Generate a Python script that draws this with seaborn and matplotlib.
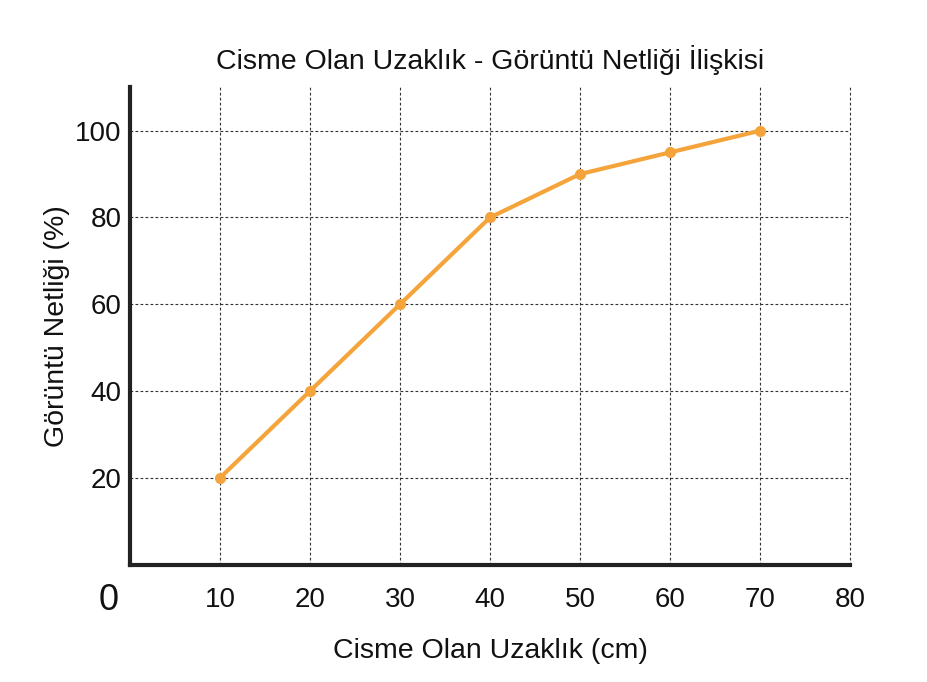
import pandas as pd
import seaborn as sns
import matplotlib.pyplot as plt

# data
distance_cm = [10, 20, 30, 40, 50, 60, 70]
clarity_pct = [20, 40, 60, 80, 90, 95, 100]
x_ticks = [10, 20, 30, 40, 50, 60, 70, 80]
y_ticks = [20, 40, 60, 80, 100]

LINE_COLOR = "#F4A43A"

sns.set_theme(style="white")
plt.rcParams['font.family'] = ['Liberation Sans', 'DejaVu Sans']

df = pd.DataFrame({"distance": distance_cm, "clarity": clarity_pct})

fig = plt.figure(figsize=(9.28, 6.82), dpi=100)
ax = fig.add_axes([0.140, 0.172, 0.776, 0.700])

sns.lineplot(data=df, x="distance", y="clarity", ax=ax, color=LINE_COLOR,
             linewidth=3, marker="o", markersize=8, markeredgewidth=0,
             zorder=3)

ax.set_xlim(0, 80)
ax.set_ylim(0, 110)
ax.set_xticks(x_ticks)
ax.set_yticks(y_ticks)
ax.tick_params(axis="x", length=0, pad=16, labelsize=20, colors="#111111")
ax.tick_params(axis="y", length=0, pad=6, labelsize=20, colors="#111111")

# dotted grid, keep the line at x=80 visible
ax.grid(True, color="#333333", linestyle=(0, (2.5, 2)), linewidth=0.8)
for gl in ax.get_xgridlines() + ax.get_ygridlines():
    gl.set_clip_on(False)

for side in ["top", "right"]:
    ax.spines[side].set_visible(False)
for side in ["left", "bottom"]:
    ax.spines[side].set_linewidth(3)
    ax.spines[side].set_color("#222222")

# big origin label
ax.text(-2.4, -8.3, "0", fontsize=26, ha="center", va="center",
        color="#111111", clip_on=False)

ax.set_title("Cisme Olan Uzaklık - Görüntü Netliği İlişkisi", fontsize=20.5,
             pad=13, color="#111111")
ax.set_xlabel("Cisme Olan Uzaklık (cm)", fontsize=20.5, labelpad=18,
              color="#111111")
ax.set_ylabel("Görüntü Netliği (%)", fontsize=20.5, labelpad=4,
              color="#111111")

plt.savefig("out.png", dpi=100)
plt.close()
